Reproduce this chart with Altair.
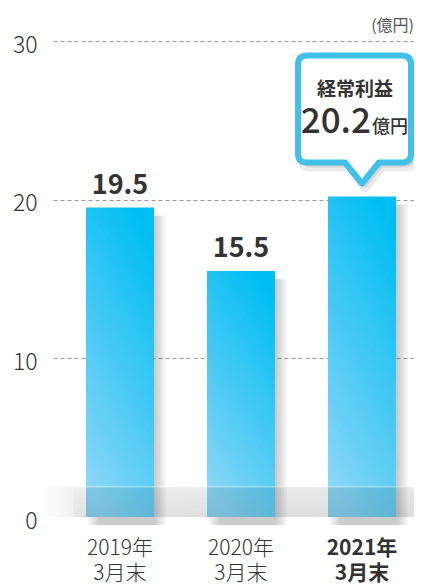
import altair as alt
import pandas as pd

# ---- data ----
categories = ["2019年3月末", "2020年3月末", "2021年3月末"]
values = [19.5, 15.5, 20.2]
value_labels = ["19.5", "15.5", ""]
y_ticks = [0, 10, 20, 30]
unit_label = "(億円)"
callout_category = ["2021年3月末"]
callout_value = [20.2]
callout_title = ["経常利益"]
callout_number = ["20.2"]
callout_unit = ["億円"]
floor_top = [1.9]

FONT = "Noto Sans CJK JP"
W, H = 361, 476

df = pd.DataFrame({"cat": categories, "value": values, "label": value_labels})
callout = pd.DataFrame({"cat": callout_category, "value": callout_value,
                        "title": callout_title, "num": callout_number, "unit": callout_unit})
floor = pd.DataFrame({"top": floor_top, "bottom": [0]})
unit_df = pd.DataFrame({"t": [unit_label]})

xscale = alt.Scale(domain=categories, paddingInner=0.438, paddingOuter=0.2107, align=0.647)
yscale = alt.Scale(domain=[0, 30], nice=False, zero=True)

x_enc = alt.X(
    "cat:N", sort=categories, scale=xscale, title=None,
    axis=alt.Axis(
        domain=False, ticks=False, labelAngle=0,
        labelExpr="[substring(datum.label, 0, 5), substring(datum.label, 5)]",
        labelFont=FONT, labelFontSize=21, labelColor="#333333",
        labelLineHeight=25, labelPadding=20, labelBaseline="top",
        labelFontWeight={"condition": {"test": "datum.value == '2021年3月末'", "value": "bold"},
                         "value": 300},
    ),
)
y_enc = alt.Y(
    "value:Q", scale=yscale, title=None,
    axis=alt.Axis(
        values=y_ticks, domain=False, ticks=False,
        labelFont=FONT, labelFontSize=23, labelFontWeight=300, labelColor="#333333",
        labelPadding=16, labelOffset=4,
        gridColor="#999999", gridDash=[4, 3], gridWidth=1,
        gridOpacity={"condition": {"test": "datum.value == 0", "value": 0}, "value": 1},
    ),
)

base = alt.Chart(df).encode(x=x_enc, y=y_enc)

# soft drop shadows to the right of bars
shadows = [
    base.mark_bar(color="#000000", opacity=0.035, xOffset=k, yOffset=8, y2Offset=0)
    for k in (2, 4, 6, 8, 10, 12)
]

bar_grad = alt.LinearGradient(
    gradient="linear",
    stops=[alt.GradientStop(color="#00bef2", offset=0),
           alt.GradientStop(color="#4ccaf4", offset=0.55),
           alt.GradientStop(color="#8ad6f6", offset=1)],
    x1=0.7, y1=0, x2=0.3, y2=1,
)
bars = base.mark_bar(color=bar_grad)

labels = alt.Chart(df).transform_filter("datum.label != ''").mark_text(
    baseline="alphabetic", dy=-14, font=FONT, fontSize=27, fontWeight="bold", color="#333333"
).encode(x=alt.X("cat:N", sort=categories, scale=xscale), y=alt.Y("value:Q", scale=yscale),
         text="label:N")

# floor band
floor_grad = alt.LinearGradient(
    gradient="linear",
    stops=[alt.GradientStop(color="rgba(0,0,0,0)", offset=0),
           alt.GradientStop(color="rgba(0,0,0,0.07)", offset=0.12),
           alt.GradientStop(color="rgba(0,0,0,0.09)", offset=1)],
    x1=0, y1=0, x2=1, y2=0,
)
floor_rect = alt.Chart(floor).mark_rect(color=floor_grad).encode(
    x=alt.value(-14), x2=alt.value(W),
    y=alt.Y("top:Q", scale=yscale), y2="bottom:Q",
)
floor_v_grad = alt.LinearGradient(
    gradient="linear",
    stops=[alt.GradientStop(color="rgba(0,0,0,0)", offset=0),
           alt.GradientStop(color="rgba(0,0,0,0.05)", offset=1)],
    x1=0, y1=0, x2=0, y2=1,
)
floor_rect2 = alt.Chart(floor).mark_rect(color=floor_v_grad).encode(
    x=alt.value(20), x2=alt.value(W),
    y=alt.Y("top:Q", scale=yscale), y2="bottom:Q",
)
floor_line = alt.Chart(floor).mark_rule(color="#ffffff", opacity=0.6, strokeWidth=1).encode(
    x=alt.value(20), x2=alt.value(W), y=alt.Y("top:Q", scale=yscale),
)

# callout bubble (path in pixels relative to the bar top)
bubble_path = ("M -55 -141 L 40 -141 Q 49 -141 49 -132 L 49 -43 Q 49 -34 40 -34 "
               "L 17 -34 L 0 -13 L -17 -34 L -55 -34 Q -64 -34 -64 -43 "
               "L -64 -132 Q -64 -141 -55 -141 Z")
cbase = alt.Chart(callout).encode(
    x=alt.X("cat:N", sort=categories, scale=xscale),
    y=alt.Y("value:Q", scale=yscale),
)
bubble_shadow = cbase.mark_point(
    shape=bubble_path, size=4, filled=True, fill="#000000", fillOpacity=0.10,
    stroke="#000000", strokeOpacity=0.08, strokeWidth=8, strokeJoin="round",
    xOffset=3, yOffset=5, opacity=1,
)
bubble = cbase.mark_point(
    shape=bubble_path, size=4, filled=True, fill="#ffffff", fillOpacity=1,
    stroke="#41c1ea", strokeWidth=6, strokeJoin="round", opacity=1,
)
c_title = cbase.mark_text(
    baseline="middle", dx=-7, dy=-106, font=FONT, fontSize=19, fontWeight="bold", color="#333333"
).encode(text="title:N")
c_num = cbase.mark_text(
    align="right", baseline="alphabetic", dx=9, dy=-63, font=FONT, fontSize=35,
    fontWeight=500, color="#333333"
).encode(text="num:N")
c_unit = cbase.mark_text(
    align="left", baseline="alphabetic", dx=10, dy=-63, font=FONT, fontSize=18,
    fontWeight=500, color="#333333"
).encode(text="unit:N")

unit_text = alt.Chart(unit_df).mark_text(
    align="right", baseline="middle", font=FONT, fontSize=16, color="#555555"
).encode(x=alt.value(W), y=alt.value(-15), text="t:N")

chart = alt.layer(
    *shadows, bars, floor_rect, floor_rect2, floor_line, labels,
    bubble_shadow, bubble, c_title, c_num, c_unit, unit_text,
).properties(
    width=W, height=H, autosize="none",
    padding={"left": 45, "top": 33, "right": 0, "bottom": 70},
    background="#ffffff",
).configure_view(stroke=None)

chart.save("out.html", embed_options={"renderer": "svg", "actions": False})
